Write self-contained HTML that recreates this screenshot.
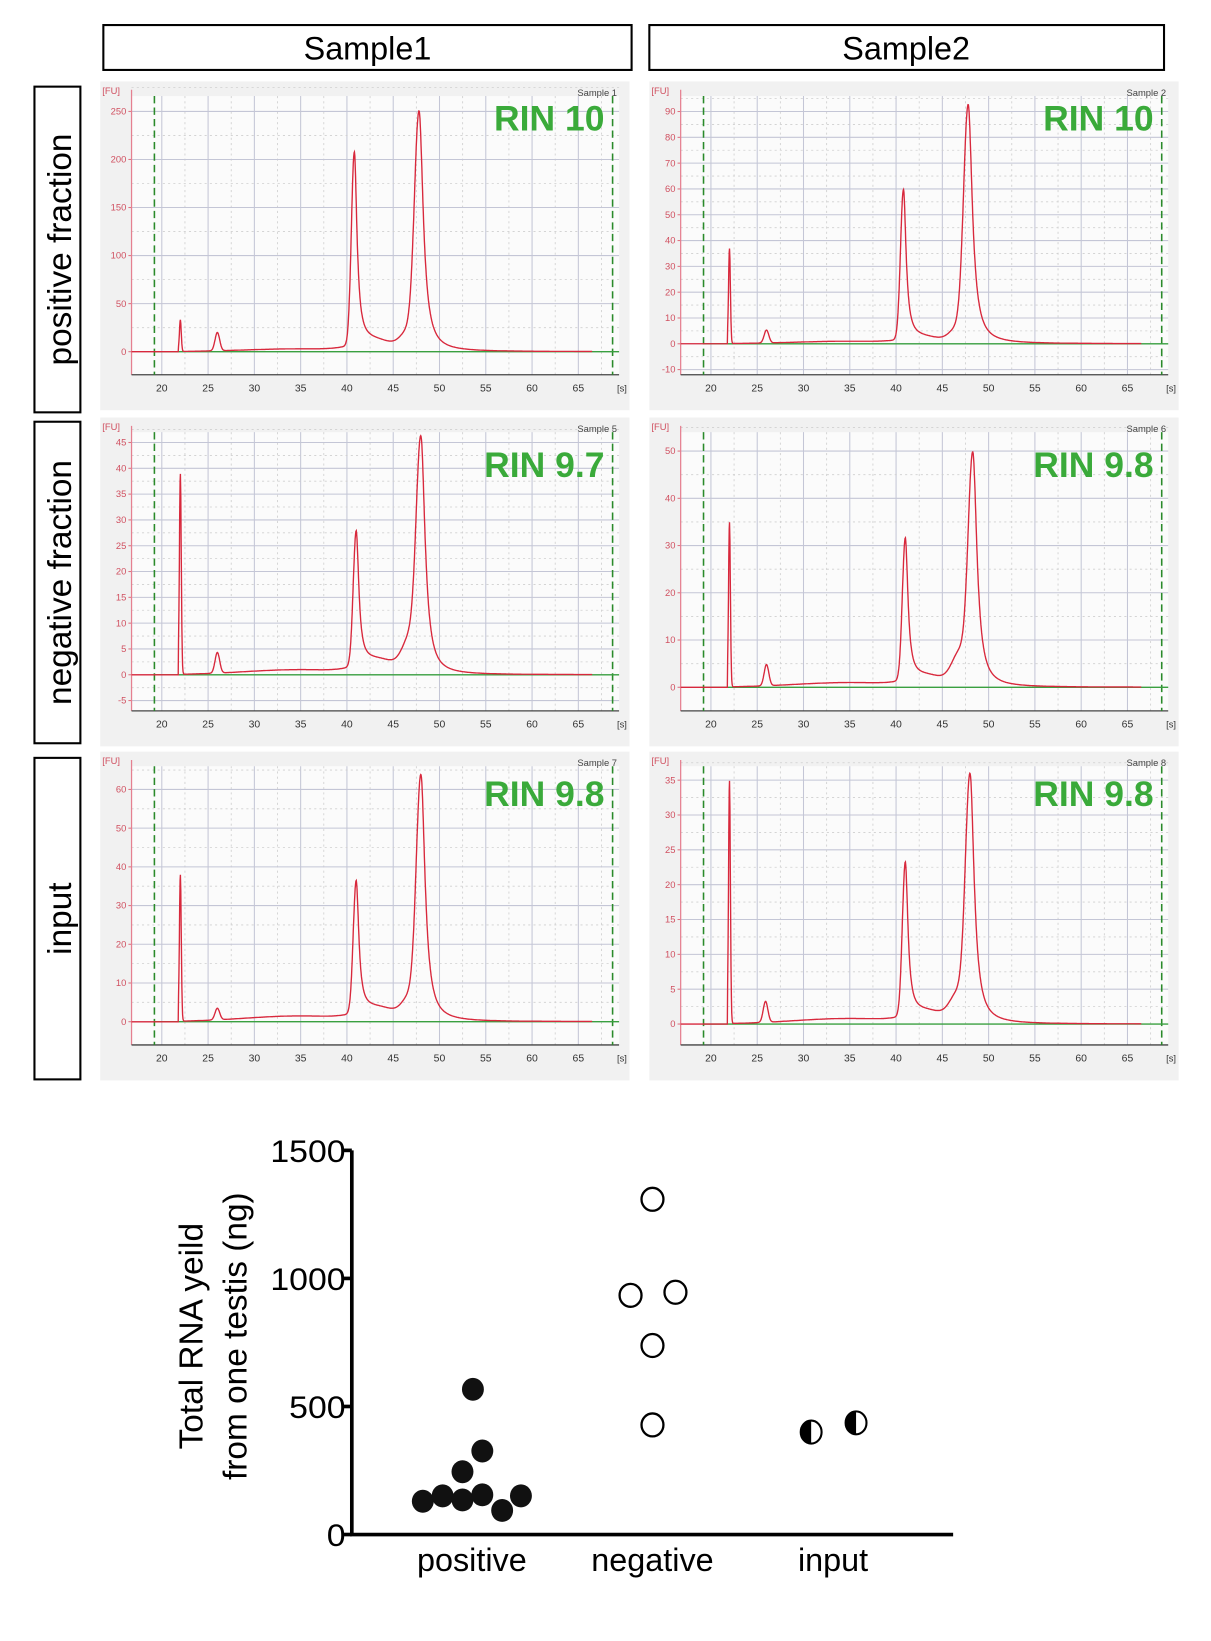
<!DOCTYPE html>
<html><head><meta charset="utf-8"><style>
html,body{margin:0;padding:0;background:#fff;}
svg{display:block;font-family:"Liberation Sans",sans-serif;}
</style></head><body>
<svg id="fig" width="1211" height="1641" viewBox="0 0 1160 1572" preserveAspectRatio="none" xmlns="http://www.w3.org/2000/svg">
<g>
<rect x="99" y="24" width="506" height="43" fill="#fff" stroke="#000" stroke-width="2"/>
<text x="352" y="57" font-size="31" text-anchor="middle">Sample1</text>
<rect x="622" y="24" width="493" height="43" fill="#fff" stroke="#000" stroke-width="2"/>
<text x="868" y="57" font-size="31" text-anchor="middle">Sample2</text>
</g>
<g>
<rect x="33" y="83" width="44" height="312" fill="#fff" stroke="#000" stroke-width="2"/>
<text transform="translate(68,239) rotate(-90)" font-size="32" text-anchor="middle">positive fraction</text>
<rect x="33" y="404" width="44" height="308" fill="#fff" stroke="#000" stroke-width="2"/>
<text transform="translate(68,558) rotate(-90)" font-size="32" text-anchor="middle">negative fraction</text>
<rect x="33" y="726" width="44" height="308" fill="#fff" stroke="#000" stroke-width="2"/>
<text transform="translate(68,880) rotate(-90)" font-size="32" text-anchor="middle">input</text>
</g>
<g id="panels"></g>
<g id="dotplot"></g>
</svg>
<script>
// ---- electropherogram data ----
const panelTitles = ["Sample 1","Sample 2","Sample 5","Sample 6","Sample 7","Sample 8"];
const rinLabels = ["RIN 10","RIN 10","RIN 9.7","RIN 9.8","RIN 9.8","RIN 9.8"];
const yTicks = [[0,50,100,150,200,250],[-10,0,10,20,30,40,50,60,70,80,90],[-5,0,5,10,15,20,25,30,35,40,45],[0,10,20,30,40,50],[0,10,20,30,40,50,60],[0,5,10,15,20,25,30,35]];
const yMins = [-24,-12,-7,-5,-6,-3];
const yMaxs = [266,96,47,54,66,37];
const xTicks = [20,25,30,35,40,45,50,55,60,65];
const p1Peaks=[22,26,40.8,47.8,43,46.8,35]; const p1Heights=[33,19,200,238,10,20,3];
const p2Peaks=[22,26,40.8,47.8,43,46.8,35]; const p2Heights=[37,5,58,89,2,6,1];
const p3Peaks=[22,26,41,48,43.5,47,35]; const p3Heights=[39,4,26,42,2.5,7,1];
const p4Peaks=[22,26,41,48.3,43.5,47,35]; const p4Heights=[35,4.5,30,47,2,7,1];
const p5Peaks=[22,26,41,48,43.5,47,35]; const p5Heights=[38,3,34,60,3,6,1.5];
const p6Peaks=[22,25.9,41,48,43.5,46.8,35]; const p6Heights=[35,3,22,34,1.5,4,0.8];
const peakSets=[p1Peaks,p2Peaks,p3Peaks,p4Peaks,p5Peaks,p6Peaks];
const heightSets=[p1Heights,p2Heights,p3Heights,p4Heights,p5Heights,p6Heights];
const peakWidths=[0.1,0.25,0.32,0.5,2.2,0.9,6];

// ---- dot plot data ----
const groups=["positive","negative","input"];
const positiveVals=[130,151,135,155,94,151,245,326,567];
const negativeVals=[1309,934,946,738,428];
const inputVals=[400,436];
const yieldTicks=[0,500,1000,1500];

const NS="http://www.w3.org/2000/svg";
function mk(tag,attrs,parent){const e=document.createElementNS(NS,tag);for(const k in attrs)e.setAttribute(k,attrs[k]);parent.appendChild(e);return e;}

const panelsG=document.getElementById('panels');
const colX=[96,622], rowY=[78,400,720], PW=507, PH=315;
for(let i=0;i<6;i++){
  const x0=colX[i%2], y0=rowY[Math.floor(i/2)];
  const g=mk('g',{},panelsG);
  
  
  const bg=mk('rect',{x:x0,y:y0,width:PW,height:PH,fill:'#f1f1f1'},g);
  
  
  const L=x0+30, R=x0+PW-10, T=y0+14, B=y0+PH-34;
  const xmin=16.73, xmax=69.4;
  const sx=t=>L+(t-xmin)/(xmax-xmin)*(R-L);
  const sy=v=>B-(v-yMins[i])/(yMaxs[i]-yMins[i])*(B-T);
  const pa=mk('rect',{x:L,y:T,width:R-L,height:B-T,fill:'#fbfbfb'},g);
  
  
  xTicks.forEach(t=>{
    const l=mk('line',{x1:sx(t),x2:sx(t),y1:T,y2:B,stroke:'#c4c6d6','stroke-width':1},g);
    
    
    const m=mk('line',{x1:sx(t+2.5),x2:sx(t+2.5),y1:T,y2:B,stroke:'#cfcfcf','stroke-width':0.8,'stroke-dasharray':'2,3'},g);
    
    
  });
  const yt=yTicks[i], step=yt[1]-yt[0];
  yt.forEach(v=>{
    const l=mk('line',{x1:L,x2:R,y1:sy(v),y2:sy(v),stroke:'#c4c6d6','stroke-width':1},g);
    
    
    const m=mk('line',{x1:L,x2:R,y1:sy(v+step/2),y2:sy(v+step/2),stroke:'#cfcfcf','stroke-width':0.8,'stroke-dasharray':'2,3'},g);
    
    
    const tl=mk('text',{x:L-5,y:sy(v)+3,'font-size':9,fill:'#d05060','text-anchor':'end'},g);
    tl.textContent=v;
    
    
    const tk=mk('line',{x1:L-3,x2:L,y1:sy(v),y2:sy(v),stroke:'#e07080'},g);
    
    
  });
  const ya=mk('line',{x1:L,x2:L,y1:T-6,y2:B,stroke:'#e58090','stroke-width':1.2},g);
  
  
  const xa=mk('line',{x1:L,x2:R,y1:B,y2:B,stroke:'#444','stroke-width':1.2},g);
  
  
  xTicks.forEach(t=>{
    const tl=mk('text',{x:sx(t),y:B+16,'font-size':10,fill:'#333','text-anchor':'middle'},g);
    tl.textContent=t;
    
    
  });
  const su=mk('text',{x:R-2,y:B+16,'font-size':9,fill:'#333'},g);
  su.textContent='[s]';
  
  
  const fu=mk('text',{x:x0+2,y:y0+12,'font-size':9,fill:'#d05060'},g);
  fu.textContent='[FU]';
  
  
  const st=mk('text',{x:R-2,y:y0+14,'font-size':9,fill:'#444','text-anchor':'end'},g);
  st.textContent=panelTitles[i];
  
  
  [19.2,68.7].forEach(t=>{
    const d=mk('line',{x1:sx(t),x2:sx(t),y1:T,y2:B,stroke:'#2a8a2a','stroke-width':1.5,'stroke-dasharray':'7,4'},g);
    
    
  });
  const bl=mk('line',{x1:sx(19.2),x2:R,y1:sy(0),y2:sy(0),stroke:'#3aa040','stroke-width':1.3},g);
  
  
  const pk=peakSets[i], hs=heightSets[i];
  let d='';
  for(let t=xmin;t<=66.5;t+=0.04){
    let v=0;
    if(t>21.8){
      for(let k=0;k<pk.length;k++){
        const z=(t-pk[k])/peakWidths[k];
        v+=hs[k]*(k>=2&&k<=3 ? (z<0?Math.exp(-z*z/2):1/(1+z*z*0.9)) : Math.exp(-z*z/2));
      }
    }
    d+=(d?'L':'M')+sx(t).toFixed(1)+','+sy(v).toFixed(1);
  }
  const tr=mk('path',{d:d,fill:'none',stroke:'#d8283c','stroke-width':1.3},g);
  
  
  const rin=mk('text',{x:R-14,y:T+(i<2?33:i<4?43:38),'font-size':34,'font-weight':'bold',fill:'#3aaa3a','text-anchor':'end'},g);
  rin.textContent=rinLabels[i];
  
  
}

const dp=document.getElementById('dotplot');
const AX=337, Y0=1470, Y1=1102, XR=913;
const yScale=v=>Y0-v/1500*(Y0-Y1);
const groupX=[452,625,798];
const ax=mk('path',{d:`M${AX},${Y1} L${AX},${Y0} L${XR},${Y0}`,fill:'none',stroke:'#000','stroke-width':3.5},dp);


yieldTicks.forEach(v=>{
  const tk=mk('line',{x1:AX-8,x2:AX,y1:yScale(v),y2:yScale(v),stroke:'#000','stroke-width':3.5},dp);
  
  
  const tl=mk('text',{x:AX-6,y:yScale(v)+11,'font-size':30,'text-anchor':'end',textLength:v>=1000?72:v>0?54:18,lengthAdjust:'spacingAndGlyphs'},dp);
  tl.textContent=v;
  
  
});
groups.forEach((gname,k)=>{
  const tl=mk('text',{x:groupX[k],y:1505,'font-size':31,'text-anchor':'middle'},dp);
  tl.textContent=gname;
  
  
});
const yt1=mk('text',{transform:'translate(194,1280) rotate(-90)','font-size':32,'text-anchor':'middle'},dp);
yt1.textContent='Total RNA yeild';


const yt2=mk('text',{transform:'translate(236,1280) rotate(-90)','font-size':32,'text-anchor':'middle'},dp);
yt2.textContent='from one testis (ng)';


const posOff=[-47,-28,-9,10,29,47,-9,10,1];
positiveVals.forEach((v,j)=>{
  const c=mk('ellipse',{cx:groupX[0]+posOff[j],cy:yScale(v),rx:10.5,ry:11,fill:'#111'},dp);
  
  
});
const negOff=[0,-21,22,0,0];
negativeVals.forEach((v,j)=>{
  const c=mk('ellipse',{cx:groupX[1]+negOff[j],cy:yScale(v),rx:10.5,ry:11,fill:'#fff',stroke:'#000','stroke-width':2.2},dp);
  
  
});
const inOff=[-21,22];
inputVals.forEach((v,j)=>{
  const cx=groupX[2]+inOff[j], cy=yScale(v);
  const c=mk('ellipse',{cx:cx,cy:cy,rx:10,ry:11,fill:'#fff',stroke:'#000','stroke-width':2},dp);
  
  
  const h=mk('path',{d:`M${cx},${cy-11} A10,11 0 0 0 ${cx},${cy+11} Z`,fill:'#000'},dp);
  
  
});
</script>
</body></html>
